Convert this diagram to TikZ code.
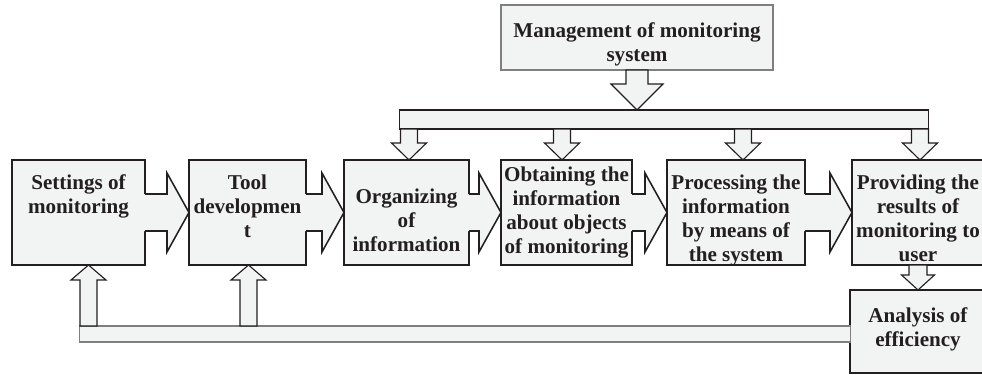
\documentclass[tikz,border=0pt]{standalone}
\usepackage{fontspec}
\setmainfont{Liberation Serif}
\usetikzlibrary{positioning, calc}
\definecolor{Ink}{HTML}{231F20}
\definecolor{Paper}{HTML}{F2F3F3}
\definecolor{Edge}{HTML}{7F7F7F}
\tikzset{
    stagebox/.style={rectangle, draw=Ink, fill=Paper, line width=1.1pt, outer sep=0pt, inner sep=0pt, minimum height=2.625cm},
    stagetext/.style={align=center, inner sep=0pt, text=Ink, font=\bfseries\fontsize{15}{17.1}\selectfont},
    barnode/.style={rectangle, draw=#1, fill=Paper, line width=0.8pt, outer sep=0pt, inner sep=0pt},
    blockarrow/.style={draw=Ink, fill=Paper, line width=0.8pt, line join=miter},
}
% block arrow growing out of the right side of #1 into #2
\newcommand\hblock[2]{%
    \fill[Paper] ($(#1.east)+(-1.5,-18.5)$) -- ($(#2.west)+(-22,-18.5)$) -- ($(#2.west)+(-22,-39.5)$) -- (#2.west)
        -- ($(#2.west)+(-22,39.5)$) -- ($(#2.west)+(-22,18.5)$) -- ($(#1.east)+(-1.5,18.5)$) -- cycle;
    \draw[Ink, line width=1.1pt, line join=miter] ($(#1.east)+(0,-18.5)$) -- ($(#2.west)+(-22,-18.5)$) -- ($(#2.west)+(-22,-39.5)$) -- (#2.west)
        -- ($(#2.west)+(-22,39.5)$) -- ($(#2.west)+(-22,18.5)$) -- ($(#1.east)+(0,18.5)$);
}
% vertical block arrow: #1 tail, #2 tip, #3 half shaft, #4 half head, #5 head base offset
\newcommand\vblock[5]{%
    \path[blockarrow] ($(#1)+(-#3,0)$) -- ($(#2)+(-#3,#5)$) -- ($(#2)+(-#4,#5)$) -- (#2)
        -- ($(#2)+(#4,#5)$) -- ($(#2)+(#3,#5)$) -- ($(#1)+(#3,0)$) -- cycle;
}

\begin{document}
\begin{tikzpicture}[x=0.025cm, y=-0.025cm]
    \useasboundingbox (0,0) rectangle (982,375);

    % stages of the chain
    \node[stagebox, minimum width=3.325cm] (b1) at (78.5,212.5) {};
    \node[stagebox, minimum width=2.925cm] (b2) at (247.5,212.5) {};
    \node[stagebox, minimum width=3.125cm] (b3) at (406.5,212.5) {};
    \node[stagebox, minimum width=3.275cm] (b4) at (566.5,212.5) {};
    \node[stagebox, minimum width=3.45cm] (b5) at (736,212.5) {};
    \node[stagebox, minimum width=3.3cm] (b6) at (918,212.5) {};
    \node[stagebox, minimum width=3.4cm, minimum height=2.075cm] (eff) at (918,331.5) {};
    \node[stagebox, draw=Edge, line width=0.9pt, minimum width=6.8cm, minimum height=1.625cm] (mgmt) at (637,37.5) {};

    % arrows along the chain
    \hblock{b1}{b2}
    \hblock{b2}{b3}
    \hblock{b3}{b4}
    \hblock{b4}{b5}
    \hblock{b5}{b6}

    % distribution bar from management
    \node[barnode=Ink, minimum width=13.2cm, minimum height=0.475cm] (topbar) at (664,119.5) {};
    \vblock{mgmt.south}{mgmt.south |- topbar.north}{11}{26}{-26}

    \coordinate (d3) at ($(b3.north)+(2.5,0)$);
    \coordinate (d4) at ($(b4.north)+(-4.5,0)$);
    \coordinate (d5) at ($(b5.north)+(7,0)$);
    \coordinate (d6) at ($(b6.north)+(2,0)$);
    \foreach \d in {d3,d4,d5,d6}
        \vblock{topbar.south -| \d}{\d}{8.5}{17.5}{-17};

    % feedback from the analysis
    \vblock{b6.south}{b6.south |- eff.north}{9}{16.5}{-15}
    \node[barnode=Edge, minimum width=19.25cm, minimum height=0.4cm] (feedbar) at (465,334) {};
    \coordinate (u1) at ($(b1.south)+(10,0)$);
    \coordinate (u2) at ($(b2.south)+(1,0)$);
    \vblock{feedbar.north -| u1}{u1}{8.5}{17.5}{15}
    \vblock{feedbar.north -| u2}{u2}{8.5}{17.5}{15}

    % labels
    \node[stagetext, below=10.5pt of b1.north] (t1) {Settings of\\monitoring};
    \node[stagetext, below=10.5pt of b2.north] (t2) {Tool\\developmen\\t};
    \node[stagetext, below=20.4pt of b3.north] (t3) {Organizing\\of\\information};
    \node[stagetext, below=4.8pt of b4.north] (t4) {Obtaining the\\information\\about objects\\of monitoring};
    \node[stagetext, below=10.5pt of b5.north] (t5) {Processing the\\information\\by means of\\the system};
    \node[stagetext, below=10.5pt of b6.north] (t6) {Providing the\\results of\\monitoring to\\user};
    \node[stagetext, below=12.6pt of eff.north] (teff) {Analysis of\\efficiency};
    \node[stagetext, below=12.6pt of mgmt.north] (tmgmt) {Management of monitoring\\system};
\end{tikzpicture}
\end{document}
